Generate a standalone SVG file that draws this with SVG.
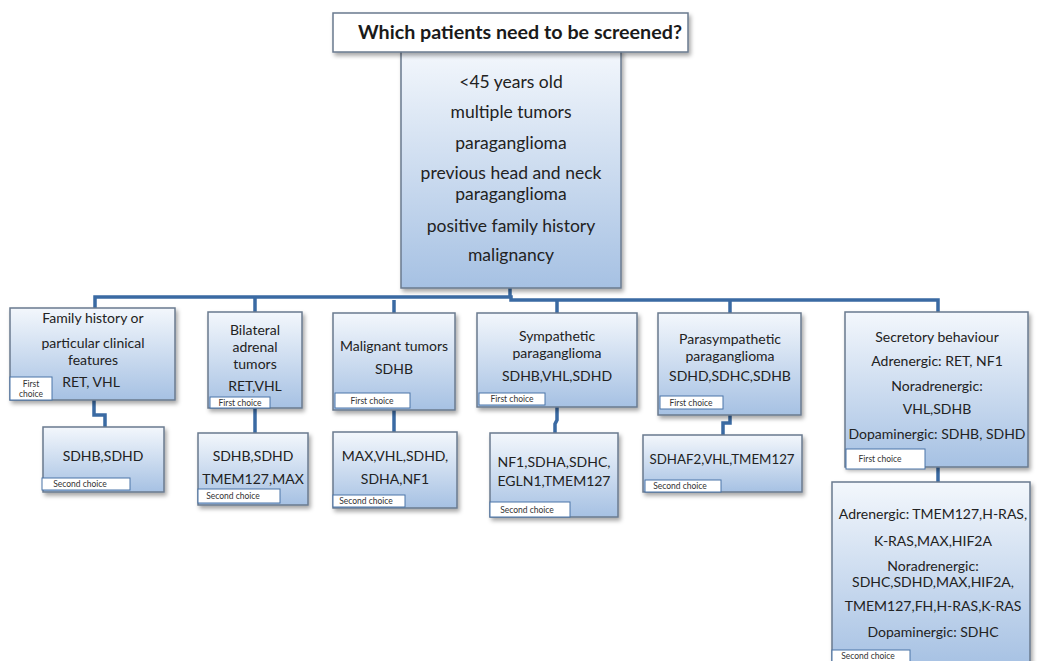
<svg xmlns="http://www.w3.org/2000/svg" width="1037" height="661" viewBox="0 0 1037 661">
<defs>
<linearGradient id="g" x1="0" y1="0" x2="0" y2="1">
<stop offset="0" stop-color="#f3f7fc"/>
<stop offset="1" stop-color="#a6c1e3"/>
</linearGradient>
<filter id="sh" x="-10%" y="-10%" width="130%" height="130%">
<feDropShadow dx="2" dy="3" stdDeviation="2" flood-color="#000" flood-opacity="0.35"/>
</filter>
<style>
.box{fill:url(#g);stroke:#6a7a8e;stroke-width:1.5;filter:url(#sh)}
.tbox{fill:#fff;stroke:#6a7a8e;stroke-width:1.5;filter:url(#sh)}
.lbl{fill:#fff;stroke:#4a74a8;stroke-width:1}
.t{font-family:Lato,"Liberation Sans",sans-serif;font-size:14px;fill:#222;text-anchor:middle}
.m{font-family:Lato,"Liberation Sans",sans-serif;font-size:17.5px;fill:#222;text-anchor:middle}
.h{font-family:Lato,"Liberation Sans",sans-serif;font-size:19.7px;font-weight:bold;fill:#1a1a1a;text-anchor:middle}
.s{font-family:Lato,"Liberation Sans",sans-serif;font-size:8.5px;fill:#333;text-anchor:middle}
.c{fill:none;stroke:#3a6aa3;stroke-width:3.5}
</style>
</defs>
<rect width="1037" height="661" fill="#fff"/>

<g id="connectors">
<path class="c" d="M510 288 V297"/>
<path class="c" d="M95 309 V297 H511 V300 H938 V312"/>
<path class="c" d="M255 297 V312"/>
<path class="c" d="M394 300 V313"/>
<path class="c" d="M557 300 V313"/>
<path class="c" d="M730 300 V313"/>
<path class="c" d="M94 400 V415 H105 V427"/>
<path class="c" d="M255 408 V433"/>
<path class="c" d="M394 410 V432"/>
<path class="c" d="M557 407 V420 L555 424 V433"/>
<path class="c" d="M730 415 V423 H723 V435"/>
<path class="c" d="M938 467 V482"/>
</g>

<g id="main">
<rect class="box" x="401" y="50" width="220" height="238"/>
<text class="m" x="511" y="88">&lt;45 years old</text>
<text class="m" x="511" y="118">multiple tumors</text>
<text class="m" x="511" y="149">paraganglioma</text>
<text class="m" x="511" y="179">previous head and neck</text>
<text class="m" x="511" y="200">paraganglioma</text>
<text class="m" x="511" y="232">positive family history</text>
<text class="m" x="511" y="261">malignancy</text>
</g>

<g id="title">
<rect class="tbox" x="333" y="13" width="355" height="39"/>
<text class="h" x="520" y="39">Which patients need to be screened?</text>
</g>

<g id="b1">
<rect class="box" x="10" y="308" width="165" height="92"/>
<text class="t" x="93" y="323">Family history or</text>
<text class="t" x="93" y="348">particular  clinical</text>
<text class="t" x="93" y="365">features</text>
<text class="t" x="91" y="387">RET, VHL</text>
<rect class="lbl" x="10" y="377" width="42" height="23"/>
<text class="s" x="31" y="387">First</text>
<text class="s" x="31" y="397">choice</text>
</g>

<g id="b2">
<rect class="box" x="208" y="312" width="94" height="96"/>
<text class="t" x="255" y="335">Bilateral</text>
<text class="t" x="255" y="352">adrenal</text>
<text class="t" x="255" y="369">tumors</text>
<text class="t" x="255" y="391">RET,VHL</text>
<rect class="lbl" x="210" y="397" width="60" height="11"/>
<text class="s" x="240" y="405.5">First choice</text>
</g>

<g id="b3">
<rect class="box" x="333" y="313" width="122" height="97"/>
<text class="t" x="394" y="351">Malignant tumors</text>
<text class="t" x="394" y="374">SDHB</text>
<rect class="lbl" x="335" y="393" width="75" height="15"/>
<text class="s" x="372" y="403.5">First choice</text>
</g>

<g id="b4">
<rect class="box" x="477" y="313" width="160" height="94"/>
<text class="t" x="557" y="341">Sympathetic</text>
<text class="t" x="557" y="358">paraganglioma</text>
<text class="t" x="557" y="381">SDHB,VHL,SDHD</text>
<rect class="lbl" x="479" y="393" width="66" height="12"/>
<text class="s" x="512" y="402">First choice</text>
</g>

<g id="b5">
<rect class="box" x="658" y="313" width="143" height="102"/>
<text class="t" x="730" y="344">Parasympathetic</text>
<text class="t" x="730" y="361">paraganglioma</text>
<text class="t" x="730" y="381">SDHD,SDHC,SDHB</text>
<rect class="lbl" x="660" y="396" width="63" height="13"/>
<text class="s" x="691" y="405.5">First choice</text>
</g>

<g id="b6">
<rect class="box" x="845" y="312" width="183" height="155"/>
<text class="t" x="937" y="342">Secretory behaviour</text>
<text class="t" x="937" y="366">Adrenergic: RET, NF1</text>
<text class="t" x="937" y="391">Noradrenergic:</text>
<text class="t" x="937" y="414">VHL,SDHB</text>
<text class="t" x="937" y="439">Dopaminergic: SDHB, SDHD</text>
<rect class="lbl" x="846" y="449" width="79" height="20"/>
<text class="s" x="880" y="462">First choice</text>
</g>

<g id="s1">
<rect class="box" x="43" y="427" width="121" height="65"/>
<text class="t" x="103" y="461">SDHB,SDHD</text>
<rect class="lbl" x="42" y="478" width="88" height="12"/>
<text class="s" x="80" y="487">Second choice</text>
</g>

<g id="s2">
<rect class="box" x="198" y="433" width="110" height="72"/>
<text class="t" x="253" y="461">SDHB,SDHD</text>
<text class="t" x="253" y="484">TMEM127,MAX</text>
<rect class="lbl" x="198" y="489" width="82" height="14"/>
<text class="s" x="233" y="499">Second choice</text>
</g>

<g id="s3">
<rect class="box" x="333" y="432" width="124" height="76"/>
<text class="t" x="395" y="461">MAX,VHL,SDHD,</text>
<text class="t" x="395" y="484">SDHA,NF1</text>
<rect class="lbl" x="333" y="495" width="72" height="12"/>
<text class="s" x="366" y="504">Second choice</text>
</g>

<g id="s4">
<rect class="box" x="490" y="433" width="128" height="84"/>
<text class="t" x="554" y="467">NF1,SDHA,SDHC,</text>
<text class="t" x="554" y="486">EGLN1,TMEM127</text>
<rect class="lbl" x="490" y="502" width="80" height="15"/>
<text class="s" x="527" y="512.5">Second choice</text>
</g>

<g id="s5">
<rect class="box" x="643" y="435" width="159" height="57"/>
<text class="t" x="722" y="464" style="font-size:13.3px">SDHAF2,VHL,TMEM127</text>
<rect class="lbl" x="645" y="480" width="76" height="12"/>
<text class="s" x="680" y="489">Second choice</text>
</g>

<g id="s6">
<rect class="box" x="832" y="482" width="198" height="185"/>
<text class="t" x="933" y="519">Adrenergic: TMEM127,H-RAS,</text>
<text class="t" x="933" y="546">K-RAS,MAX,HIF2A</text>
<text class="t" x="933" y="571">Noradrenergic:</text>
<text class="t" x="933" y="587">SDHC,SDHD,MAX,HIF2A,</text>
<text class="t" x="933" y="611">TMEM127,FH,H-RAS,K-RAS</text>
<text class="t" x="933" y="637">Dopaminergic: SDHC</text>
<rect class="lbl" x="832" y="650" width="78" height="13"/>
<text class="s" x="868" y="659">Second choice</text>
</g>
</svg>
